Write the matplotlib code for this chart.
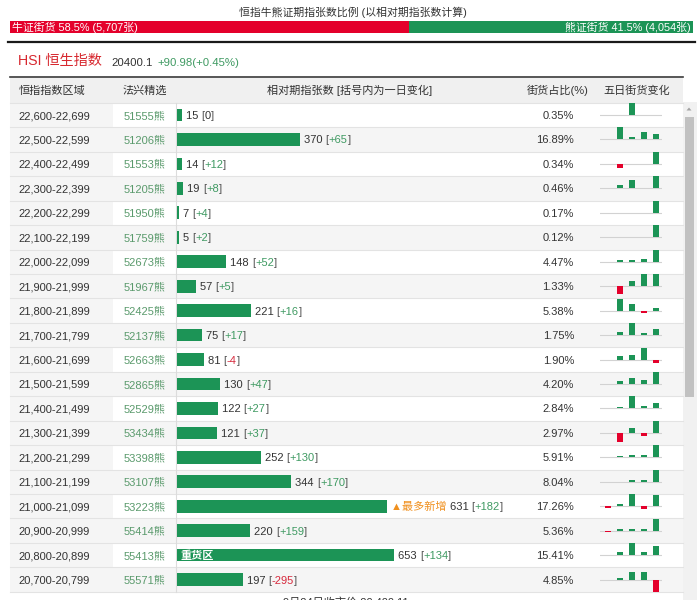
import matplotlib
matplotlib.use('Agg')
import matplotlib.pyplot as plt
from matplotlib.patches import Rectangle, Polygon

plt.rcParams['font.family'] = ['Liberation Sans', 'Noto Sans CJK SC', 'DejaVu Sans']

# ---------------- data ----------------
title = "恒指牛熊证期指张数比例 (以相对期指张数计算)"
bull_count = 5707
bear_count = 4054
index_name = "HSI 恒生指数"
index_price = "20400.1"
index_change = "+90.98(+0.45%)"
headers = ["恒指指数区域", "法兴精选", "相对期指张数 [括号内为一日变化]", "街货占比(%)", "五日街货变化"]
ranges = ["22,600-22,699", "22,500-22,599", "22,400-22,499", "22,300-22,399", "22,200-22,299",
          "22,100-22,199", "22,000-22,099", "21,900-21,999", "21,800-21,899", "21,700-21,799",
          "21,600-21,699", "21,500-21,599", "21,400-21,499", "21,300-21,399", "21,200-21,299",
          "21,100-21,199", "21,000-21,099", "20,900-20,999", "20,800-20,899", "20,700-20,799"]
codes = ["51555熊", "51206熊", "51553熊", "51205熊", "51950熊", "51759熊", "52673熊", "51967熊",
         "52425熊", "52137熊", "52663熊", "52865熊", "52529熊", "53434熊", "53398熊", "53107熊",
         "53223熊", "55414熊", "55413熊", "55571熊"]
contracts = [15, 370, 14, 19, 7, 5, 148, 57, 221, 75, 81, 130, 122, 121, 252, 344, 631, 220, 653, 197]
day_change = [0, 65, 12, 8, 4, 2, 52, 5, 16, 17, -4, 47, 27, 37, 130, 170, 182, 159, 134, -295]
share_pct = [0.35, 16.89, 0.34, 0.46, 0.17, 0.12, 4.47, 1.33, 5.38, 1.75, 1.90, 4.20, 2.84, 2.97,
             5.91, 8.04, 17.26, 5.36, 15.41, 4.85]
five_day = [
    [0, 0, 12, 0, 0],
    [0, 12, 2.7, 7, 5.3],
    [0, -4, 0, 0, 12],
    [0, 3, 8.7, 0, 12],
    [0, 0, 0, 0, 12],
    [0, 0, 0, 0, 12],
    [0, 1.3, 1.3, 2.7, 12],
    [0, -8, 4.7, 12, 12],
    [0, 12, 7, -2, 2.3],
    [0, 3, 12, 2.3, 6.3],
    [0, 3.3, 4.7, 12, -3],
    [0, 2.7, 5.7, 4, 12],
    [0, 1.7, 12, 2.3, 5.7],
    [0, -9.3, 4.7, -3, 12],
    [0, 1, 2, 2.7, 12],
    [0, 0, 2, 1.3, 12],
    [-1.7, 2, 12, -2.3, 11.3],
    [-1, 1.7, 2, 2, 12],
    [0, 3.3, 12, 3.3, 8.7],
    [0, 1.3, 8, 7.3, -12],
]
most_new_label = "▲最多新增"
most_new_row = 16
heavy_label = "重货区"
heavy_row = 18
footer = "9月24日收市价 20,400.11"

# ---------------- style ----------------
GREEN = "#1c9456"
RED = "#e4002b"
TXT = "#333333"
CODE = "#5a9a6c"
UP = "#3f9a62"
DOWN = "#d6293c"
ORANGE = "#f0901e"
STRIPE = "#f5f5f5"
W, H = 700, 600
FS = 8.0

fig = plt.figure(figsize=(7, 6), dpi=100)
fig.patch.set_facecolor("white")


def box(x0, y0, x1, y1):
    return [x0 / W, 1 - y1 / H, (x1 - x0) / W, (y1 - y0) / H]


# background axes in pixel coordinates
bg = fig.add_axes([0, 0, 1, 1], zorder=0)
bg.set_xlim(0, W)
bg.set_ylim(H, 0)
bg.axis('off')

row0 = 102.8
rh = 24.45
n = len(ranges)
L, R = 10, 683

# header
bg.add_patch(Rectangle((L, 78), R - L, row0 - 78, color="#f0f0f0", lw=0))
bg.plot([L, R], [77.3, 77.3], color="#3a3a3a", lw=1.2)
bg.plot([8, 695], [42.3, 42.3], color="#1a1a1a", lw=1.6)

for i in range(n):
    top = row0 + i * rh
    if i % 2 == 1:
        bg.add_patch(Rectangle((L, top), R - L, rh, color=STRIPE, lw=0))
    else:
        bg.add_patch(Rectangle((L, top), 113 - L, rh, color=STRIPE, lw=0))
    bg.plot([L, R], [top + rh, top + rh], color="#e3e3e3", lw=0.8)
bg.plot([L, R], [row0, row0], color="#e3e3e3", lw=0.8)
bg.plot([176, 176], [row0, row0 + n * rh], color="#dcdcdc", lw=0.8)

# scrollbar
bg.add_patch(Rectangle((683, row0 - 1), 14, H - row0 + 1, color="#f1f1f1", lw=0))
bg.add_patch(Rectangle((684.5, 117), 9.5, 280, color="#c1c1c1", lw=0))
bg.add_patch(Polygon([[686.5, 110.5], [691.5, 110.5], [689, 107.5]], color="#a3a3a3", lw=0))

# top proportion bar
total = bull_count + bear_count
bull_pct = bull_count / total * 100
bear_pct = bear_count / total * 100
tb = fig.add_axes(box(10, 20.7, 693, 33.3), zorder=1)
tb.barh([0], [bull_pct], height=1, color=RED, lw=0)
tb.barh([0], [bear_pct], left=[bull_pct], height=1, color=GREEN, lw=0)
tb.set_xlim(0, 100)
tb.set_ylim(-0.5, 0.5)
tb.axis('off')

# contract bars
bar_x0, bar_x1 = 177, 520
px_per_unit = 0.3327
ba = fig.add_axes(box(bar_x0, row0, bar_x1, row0 + n * rh), zorder=1)
ba.patch.set_visible(False)
ba.barh(range(n), contracts, height=0.52, color=GREEN, lw=0)
ba.set_xlim(0, (bar_x1 - bar_x0) / px_per_unit)
ba.set_ylim(n - 0.5, -0.5)
ba.axis('off')

# sparklines
for i in range(n):
    yc = row0 + (i + 0.5) * rh
    sa = fig.add_axes(box(600, yc - 12.5, 662, yc + 12.5), zorder=1)
    sa.patch.set_visible(False)
    vals = five_day[i]
    sa.axhline(0, color="#d2d2d2", lw=0.8, zorder=0)
    sa.bar(range(5), vals, width=0.42, color=[GREEN if v >= 0 else RED for v in vals], lw=0, zorder=2)
    sa.set_xlim(-0.667, 4.5)
    sa.set_ylim(-12.5, 12.5)
    sa.axis('off')

# overlay for text
ov = fig.add_axes([0, 0, 1, 1], zorder=3)
ov.set_xlim(0, W)
ov.set_ylim(H, 0)
ov.patch.set_visible(False)
ov.axis('off')

renderer = fig.canvas.get_renderer()


def tw(s, fs, weight='normal'):
    t = ov.text(0, 0, s, fontsize=fs, fontweight=weight)
    w = t.get_window_extent(renderer).width
    t.remove()
    return w


def pieces(x, y, parts, fs=FS, weight='normal'):
    prefix = ""
    for s, c in parts:
        dx = (tw(prefix + "|", fs, weight) - tw("|", fs, weight)) if prefix else 0
        ov.text(x + dx, y, s, color=c, fontsize=fs, fontweight=weight, va='baseline', ha='left')
        prefix += s


ov.text(353, 16.5, title, fontsize=7.8, color=TXT, ha='center', va='baseline')
ov.text(12, 30.8, f"牛证街货 {bull_pct:.1f}% ({bull_count:,}张)", fontsize=7.8, color="white",
        ha='left', va='baseline')
ov.text(691, 30.8, f"熊证街货 {bear_pct:.1f}% ({bear_count:,}张)", fontsize=7.8, color="white",
        ha='right', va='baseline')

ov.text(18.5, 65.5, index_name, fontsize=10.2, color="#d7282f", ha='left', va='baseline')
ov.text(111.5, 65.5, index_price, fontsize=8.2, color=TXT, ha='left', va='baseline')
ov.text(157, 65.5, index_change, fontsize=8.2, color=UP, ha='left', va='baseline')

hy = 94
ov.text(18.5, hy, headers[0], fontsize=FS, color=TXT, ha='left', va='baseline')
ov.text(123, hy, headers[1], fontsize=FS, color=TXT, ha='left', va='baseline')
ov.text(349.5, hy, headers[2], fontsize=FS, color=TXT, ha='center', va='baseline')
ov.text(589, hy, headers[3], fontsize=FS, color=TXT, ha='right', va='baseline')
ov.text(603, hy, headers[4], fontsize=FS, color=TXT, ha='left', va='baseline')

for i in range(n):
    yc = row0 + (i + 0.5) * rh
    yb = yc + 4
    ov.text(18.5, yb, ranges[i], fontsize=FS, color=TXT, ha='left', va='baseline')
    ov.text(124, yb, codes[i], fontsize=FS, color=CODE, ha='left', va='baseline')
    ov.text(574, yb, f"{share_pct[i]:.2f}%", fontsize=FS, color=TXT, ha='right', va='baseline')
    xd = ba.transData.transform((contracts[i], i))[0]
    x_end = xd  # display px equals overlay data px
    ch = day_change[i]
    cc = UP if ch > 0 else (DOWN if ch < 0 else TXT)
    cs = f"+{ch}" if ch > 0 else f"{ch}"
    parts = []
    if i == most_new_row:
        parts.append((most_new_label + " ", ORANGE))
    parts += [(f"{contracts[i]} ", TXT), ("[", "#555555"), (cs, cc), ("]", "#555555")]
    pieces(x_end + 4, yb, parts)
    if i == heavy_row:
        x0 = ba.transData.transform((0, i))[0]
        ov.text(x0 + 4, yb, heavy_label, fontsize=FS, color="white", fontweight='bold',
                ha='left', va='baseline')

ov.text(283, 597.5, footer, fontsize=FS, color=TXT, ha='left', va='top')

fig.savefig("out.png", dpi=100, facecolor="white")
